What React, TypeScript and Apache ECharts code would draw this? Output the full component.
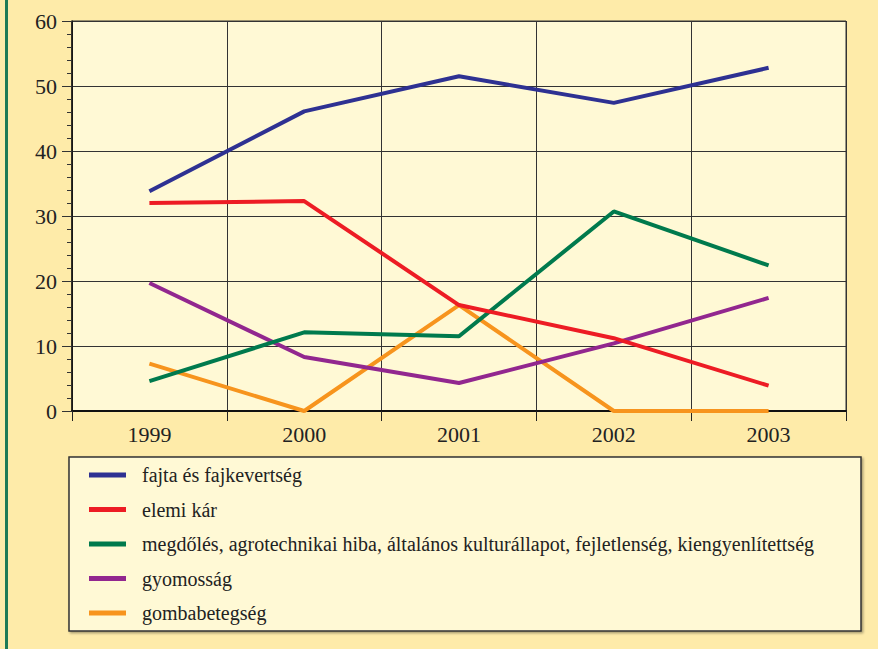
import React, { useEffect, useRef } from "react";
import * as echarts from "echarts";

const years = ["1999", "2000", "2001", "2002", "2003"];
const seriesNames = [
  "fajta és fajkevertség",
  "elemi kár",
  "megdőlés, agrotechnikai hiba, általános kulturállapot, fejletlenség, kiengyenlítettség",
  "gyomosság",
  "gombabetegség",
];
const fajta = [33.8, 46.1, 51.5, 47.4, 52.8];
const elemiKar = [32.0, 32.3, 16.3, 11.2, 3.9];
const megdoles = [4.6, 12.1, 11.5, 30.7, 22.4];
const gyomossag = [19.7, 8.3, 4.3, 10.4, 17.4];
const gomba = [7.3, 0, 16.3, 0, 0];
const colors = ["#2E3192", "#ED1C24", "#007A4D", "#92278F", "#F7941D"];

export default function App() {
  const ref = useRef<HTMLDivElement>(null);
  useEffect(() => {
    if (!ref.current) return;
    const chart = echarts.init(ref.current, null, { renderer: "svg" });
    const font = "Liberation Serif";
    const data = [fajta, elemiKar, megdoles, gyomossag, gomba];
    chart.setOption({
      animation: false,
      backgroundColor: "#FEEBA9",
      textStyle: { fontFamily: font },
      graphic: [
        {
          type: "rect",
          shape: { x: 5, y: 0, width: 3, height: 649 },
          style: { fill: "#1E7A55" },
          z: 10,
        },
        {
          type: "rect",
          shape: { x: 69, y: 457, width: 792, height: 174 },
          style: {
            fill: "#FFF9D5",
            stroke: "#333333",
            lineWidth: 1.5,
            shadowBlur: 2,
            shadowOffsetX: 1.5,
            shadowOffsetY: 1.5,
            shadowColor: "rgba(0,0,0,0.35)",
          },
          z: 0,
        },
      ],
      grid: {
        left: 72,
        top: 21,
        right: 32,
        bottom: 238,
        show: true,
        backgroundColor: "#FFF9D5",
        borderColor: "#333333",
        borderWidth: 1,
      },
      legend: {
        show: true,
        orient: "vertical",
        left: 84,
        top: 459,
        itemWidth: 37,
        itemHeight: 5,
        itemGap: 12.5,
        icon: "rect",
        data: seriesNames,
        textStyle: {
          fontFamily: font,
          fontSize: 20,
          color: "#222222",
          lineHeight: 22,
          padding: [0, 0, 0, 11],
        },
      },
      xAxis: {
        type: "category",
        data: years,
        boundaryGap: true,
        axisLine: { show: true, lineStyle: { color: "#111111", width: 2 } },
        axisTick: { show: true, length: 10, lineStyle: { color: "#222222" } },
        splitLine: { show: true, lineStyle: { color: "#333333", width: 1 } },
        axisLabel: { fontFamily: font, fontSize: 22, color: "#222222", margin: 12 },
      },
      yAxis: {
        type: "value",
        min: 0,
        max: 60,
        interval: 10,
        axisLine: { show: true, lineStyle: { color: "#111111", width: 1.5 } },
        axisTick: { show: true, length: 10, lineStyle: { color: "#333333" } },
        minorTick: { show: true, splitNumber: 5, length: 5, lineStyle: { color: "#333333" } },
        splitLine: { show: true, lineStyle: { color: "#333333", width: 1 } },
        axisLabel: { fontFamily: font, fontSize: 22, color: "#222222", margin: 15 },
      },
      series: seriesNames.map((name, i) => ({
        name,
        type: "line",
        data: data[i],
        symbol: "none",
        color: colors[i],
        lineStyle: { width: 4, color: colors[i] },
        z: 5 - i + 2,
      })),
    });
    return () => chart.dispose();
  }, []);
  return (
    <div
      ref={ref}
      style={{ position: "fixed", left: 0, top: 0, width: 878, height: 649 }}
    />
  );
}
